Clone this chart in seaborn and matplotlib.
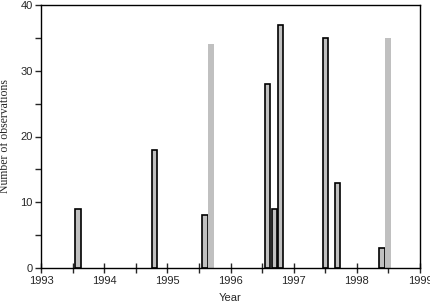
import seaborn as sns
import matplotlib.pyplot as plt
import numpy as np

# observation dates (decimal year) and counts
years = [1993.586, 1994.797, 1995.596, 1995.691, 1996.586, 1996.696,
         1996.791, 1997.504, 1997.694, 1998.398, 1998.493]
counts = [9, 18, 8, 34, 28, 9, 37, 35, 13, 3, 35]
no_edge = [False, False, False, True, False, False, False, False, False, False, True]

year_ticks = [1993, 1994, 1995, 1996, 1997, 1998, 1999]

sns.set_style("ticks")
plt.rcParams['font.family'] = ['Liberation Serif', 'DejaVu Sans']

fig = plt.figure(figsize=(4.31, 3.05), dpi=100)
ax = fig.add_axes([41 / 431, 1 - 268 / 305, 379 / 431, 263 / 305])

min_gap = np.diff(np.sort(years)).min()
sns.barplot(x=years, y=counts, native_scale=True, width=0.09 / min_gap,
            color='#c0c0c0', saturation=1, edgecolor='black', linewidth=1.2, ax=ax)

for patch, flag in zip(ax.patches, no_edge):
    if flag:
        patch.set_edgecolor('none')

ax.set_xlim(1993, 1999)
ax.set_ylim(0, 40)
ax.set_xticks(year_ticks)
ax.set_xticklabels([str(y) for y in year_ticks])
ax.set_xticks(np.arange(1993.5, 1999, 1), minor=True)
ax.set_yticks([0, 10, 20, 30, 40])
ax.set_yticks([5, 15, 25, 35], minor=True)

ax.tick_params(axis='x', which='both', direction='inout', length=7, width=1, labelsize=8, pad=2)
ax.tick_params(axis='y', which='both', direction='out', length=4, width=1, labelsize=8, pad=2)
for lab in ax.get_xticklabels() + ax.get_yticklabels():
    lab.set_family(['Liberation Sans', 'DejaVu Sans'])
for s in ax.spines.values():
    s.set_linewidth(1)
    s.set_color('black')

ax.set_xlabel("Year", fontsize=8, labelpad=5, family=['Liberation Sans', 'DejaVu Sans'])
ax.set_ylabel("Number of observations", fontsize=8.5, labelpad=7)

plt.savefig("out.png", dpi=100)
